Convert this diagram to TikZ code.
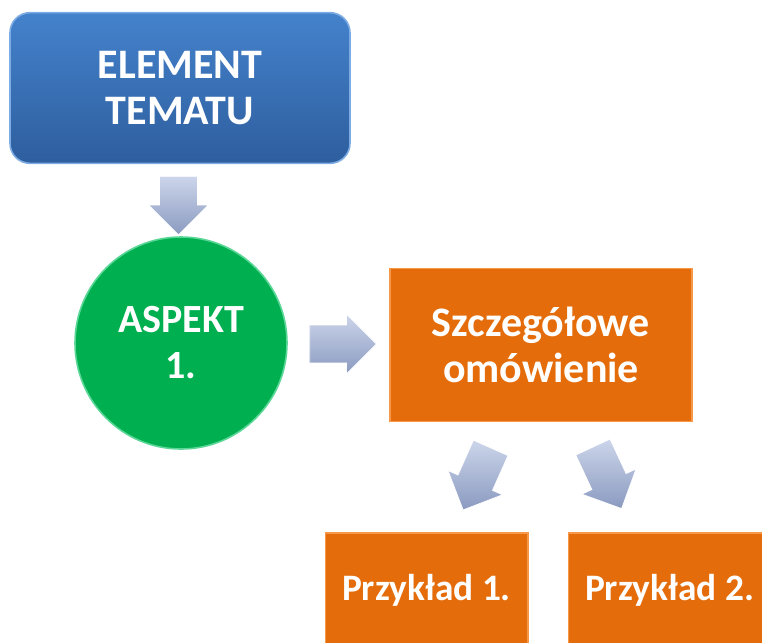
\documentclass[tikz,border=0pt]{standalone}
\usepackage{fontspec}
\setmainfont{Carlito}
\usetikzlibrary{shapes.arrows, calc}

\definecolor{bluetop}{RGB}{68,130,204}
\definecolor{bluebot}{RGB}{46,94,158}
\definecolor{blueedge}{RGB}{125,172,228}
\definecolor{greenfill}{RGB}{0,176,80}
\definecolor{greenedge}{RGB}{90,215,150}
\definecolor{orangefill}{RGB}{228,108,10}
\definecolor{orangeedge}{RGB}{246,152,72}
\definecolor{arrowtop}{RGB}{204,213,234}
\definecolor{arrowbot}{RGB}{138,154,192}

\tikzset{
  label/.style = {text=white, font=\bfseries, align=center, inner sep=0pt},
  topbox/.style = {label, rounded corners=15pt, top color=bluetop, bottom color=bluebot,
    draw=blueedge, line width=1.2pt, minimum width=255pt, minimum height=113pt,
    font=\fontsize{31.5}{34.5}\selectfont\bfseries},
  aspect/.style = {label, circle, fill=greenfill, draw=greenedge, line width=1.2pt,
    minimum size=159pt, font=\fontsize{30}{34.5}\selectfont\bfseries},
  detail/.style = {label, fill=orangefill, draw=orangeedge, line width=1pt,
    font=\fontsize{31.5}{34}\selectfont\bfseries},
  pointer/.style = {single arrow, top color=arrowtop, bottom color=arrowbot,
    draw=white, line width=0.6pt, inner xsep=0pt, inner ysep=13.9pt,
    single arrow head extend=8.25pt}
}

\begin{document}
\begin{tikzpicture}[x=0.75pt, y=-0.75pt]
\path[use as bounding box, clip] (0,0) rectangle (762,642);

\node[topbox] (el) at (180,88) {ELEMENT\\TEMATU};
\node[aspect] (asp) at (181,343) {ASPEKT\\1.};
\node[detail, minimum width=226.5pt, minimum height=114.75pt] (sz) at (541,345) {Szczegółowe\\omówienie};
\node[detail, minimum width=152pt, minimum height=85.5pt, font=\fontsize{28}{34}\selectfont\bfseries] (p1) at (426.5,590) {Przykład 1.};
\node[detail, minimum width=152pt, minimum height=85.5pt, font=\fontsize{28}{34}\selectfont\bfseries] (p2) at (669.5,590) {Przykład 2.};

\node[pointer, minimum height=44pt, rotate=-90] (a1) at ($(el.south)!0.5!(asp.north) + (-2,-4)$) {};
\node[pointer, minimum height=50pt] (a2) at ($(asp.east)!0.5!(sz.west) + (-5,0)$) {};
\node[pointer, minimum height=51pt, rotate=-114] (a3) at ($(sz.south)!0.5!(p1.north) + (-3,-7)$) {};
\node[pointer, minimum height=51pt, rotate=-65] (a4) at ($(sz.south)!0.5!(p2.north) + (-2,-8)$) {};
\end{tikzpicture}
\end{document}
